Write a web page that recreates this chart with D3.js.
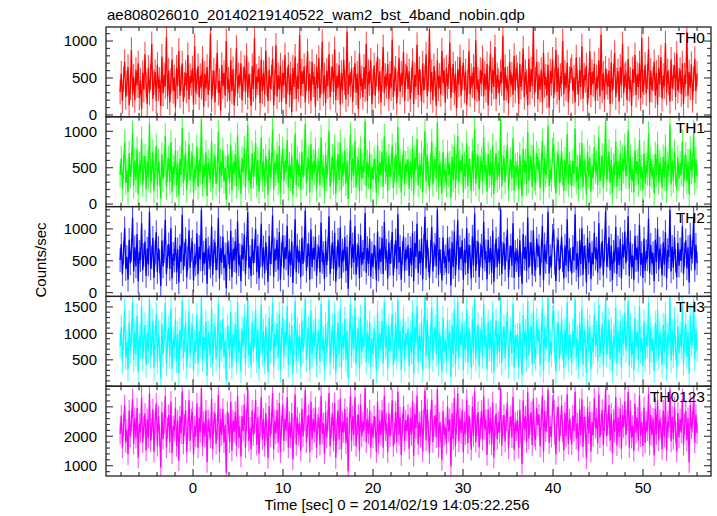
<!DOCTYPE html>
<html><head><meta charset="utf-8">
<script src="https://cdn.jsdelivr.net/npm/d3@7"></script>
<style>body{margin:0;background:#fff}svg{display:block}text{font-family:"Liberation Sans",Arial,sans-serif;fill:#000}</style>
</head><body><svg id="c" width="717" height="516"></svg>
<script>
const title = "ae808026010_20140219140522_wam2_bst_4band_nobin.qdp";
const xLabel = "Time [sec] 0 = 2014/02/19 14:05:22.256";
const yLabel = "Counts/sec";
const bands = ["TH0","TH1","TH2","TH3","TH0123"];
const colors = ["#ff0000","#00ff00","#0000ff","#00ffff","#ff00ff"];
const tStart = -8.1, tEnd = 56.0;
const xTicks = [0,10,20,30,40,50];
const yDomains = [[-25,1190],[-35,1200],[-60,1350],[0,1700],[650,3700]];
const yTickVals = [[0,500,1000],[0,500,1000],[0,500,1000],[500,1000,1500],[1000,2000,3000]];
const yMinorStep = [100,100,100,100,200];
// typical 1-sigma error half-width of each band (counts/sec)
const yErrors = [170,170,185,230,360];

const th0 = [310,560,190,480,720,240,430,650,130,370,880,280,520,200,610,400,
700,230,470,80,570,340,820,410,150,640,300,510,960,220,440,580,
190,680,360,480,120,790,290,540,390,1050,250,600,170,460,750,320,
510,100,640,390,870,260,490,700,180,410,570,330,810,210,530,430,
630,140,930,310,450,660,240,530,380,760,110,560,360,650,270,500,
1100,210,430,600,170,520,840,300,460,60,680,390,570,260,1000,350,
480,190,740,320,620,130,420,910,290,540,400,700,200,490,640,310,
800,240,550,390,120,660,350,1040,230,520,440,630,160,750,320,570,
280,870,420,190,610,360,510,760,130,440,940,250,540,340,670,180,
570,400,810,150,470,680,270,550,40,640,380,790,220,530,350,1080,
260,590,420,660,170,500,860,320,560,190,720,410,520,110,650,360,
770,230,450,990,290,540,160,600,390,820,240,490,650,310,890,200,
530,370,680,140,570,330,750,440,210,1130,280,550,410,630,180,480,
700,300,560,80,830,390,500,240,650,350,960,190,580,430,740,150,
450,670,260,550,790,320,590,170,480,920,290,530,390,690,220,560,
360,1020,240,490,630,160,420,770,310,560,410,850,190,520,660,350,
590,210,470,730,150,540,380,950,270,620,440,180,700,330,510,820,
250,490,1160,310,580,200,660,420,120,740,360,530,280,870,430,600,
170,640,390,520,980,230,470,690,300,560,90,620,410,780,260,500,
710,330,590,140,450,860,280,530,400,650,210,1010,350,480,190,610,
420,770,250,560,340,690,130,500,830,290,610,380,920,220,540,460,
300,580,430,1070,200,650,360,490,160,720,410,550,270,800,330,640,
540,150,690,380,500,900,240,580,450,130,760,310,620,390,1190,280,
480,720,210,550,340,610,180,840,400,520,260,680,100,590,430,750,
230,470,880,310,640,200,530,420,1000,280,570,360,710,170,490,600,
650,320,510,170,780,440,290,610,380,930,220,540,470,670,140,400,
860,270,580,420,690,190,510,360,740,250,1090,330,560,210,630,450,
380,600,150,710,320,520,840,240,470,590,180,650,400,960,290,530,
560,200,760,350,480,120,620,430,810,270,550,380,700,230,1040,310,
440,680,290,520,890,170,600,340,490,720,260,570,140,640,410,780,
220,530,390,970,300,590,440,180,750,360,510,670,240,830,330,470,
610,280,700,150,540,420,1120,260,580,370,690,200,490,760,320,560];
const th1 = [400,630,210,510,850,290,460,160,700,380,540,980,250,600,330,760,
140,550,430,900,270,490,660,200,580,370,1110,310,450,720,180,520,
800,250,590,410,80,680,340,540,940,230,470,630,300,850,170,510,
410,740,260,570,120,620,400,1050,290,500,700,190,440,820,320,560,
670,150,480,360,790,230,600,440,1170,270,520,380,710,110,580,460,
340,870,220,540,660,280,450,990,170,590,390,740,310,500,60,660,
520,300,810,190,570,420,680,250,950,360,490,140,630,430,770,230,
580,1090,320,460,210,700,380,540,840,260,610,170,480,910,340,590,
240,660,450,130,750,370,520,1030,200,570,420,690,290,800,160,500,
760,310,590,440,880,220,550,350,670,120,460,970,260,620,400,540,
190,720,370,560,1100,280,490,630,160,830,330,580,430,750,210,470,
600,260,920,400,510,170,680,350,570,1010,240,460,660,300,790,140,
450,690,330,850,190,550,410,740,280,600,70,520,960,320,630,390,
870,230,490,610,180,760,350,530,430,1140,250,580,370,700,200,510,
330,620,460,150,810,290,570,400,720,240,930,440,550,180,660,370,
530,800,220,470,680,300,1060,390,600,160,510,740,280,560,440,620,
210,580,350,770,130,640,470,890,260,540,380,700,170,600,1000,310,
680,420,190,530,860,270,490,620,340,1120,230,560,410,150,720,380,
470,260,710,400,560,90,650,330,790,220,510,940,300,590,440,680,
160,550,380,840,250,620,460,180,730,350,1030,280,520,660,200,490,
610,310,920,430,540,170,690,390,580,260,800,140,480,700,330,570,
370,1170,240,500,640,300,560,820,200,450,610,350,900,190,530,420,
540,200,680,370,110,760,440,590,280,990,320,500,650,230,810,360,
290,700,480,600,220,540,870,160,630,400,520,1080,250,470,340,740,
820,380,150,560,690,290,460,730,420,180,610,350,960,270,550,430,
250,590,410,1040,300,510,200,680,370,840,230,600,460,130,720,390,
640,170,520,360,780,440,570,260,910,310,490,670,220,560,1150,340,
480,720,290,610,150,530,400,860,240,590,350,700,180,630,450,800,
380,560,1010,210,650,330,480,160,740,420,590,270,880,360,510,190,
700,280,540,430,970,250,620,380,510,150,690,400,830,300,570,470,
220,650,360,790,180,550,460,1090,270,600,320,720,410,200,640,350,
560,410,860,240,500,680,310,590,130,760,440,530,990,290,620,380];
const th2 = [510,760,290,620,1010,370,560,200,830,460,670,1180,330,710,410,920,
180,640,510,1090,350,590,800,260,690,440,1270,380,550,860,230,630,
950,320,700,490,100,820,410,650,1140,290,570,760,370,1010,220,610,
500,870,320,680,160,740,480,1220,360,600,840,240,540,980,390,670,
800,190,580,440,930,290,720,520,1300,340,630,460,850,140,690,550,
410,1040,280,650,790,350,540,1170,220,700,470,880,380,600,70,780,
630,370,970,240,680,510,810,310,1120,440,590,180,750,520,910,290,
690,1260,390,560,260,840,460,650,1000,320,730,220,580,1080,410,710,
300,790,540,170,890,450,630,1210,250,680,510,830,360,950,200,600,
900,380,710,530,1050,270,660,430,800,150,560,1150,320,740,480,650,
240,860,450,670,1290,340,590,760,200,990,400,700,520,880,260,570,
720,320,1100,480,620,210,810,430,680,1200,290,560,790,370,940,170,
540,830,400,1020,230,660,500,870,340,720,60,630,1140,390,760,470,
1040,280,590,740,220,900,430,640,520,1250,310,700,450,840,250,620,
400,750,550,190,960,360,690,480,860,290,1110,530,660,220,790,450,
640,950,270,570,820,370,1230,470,720,200,620,880,340,680,530,750,
260,700,430,940,180,780,560,1080,310,650,460,850,210,730,1190,380,
830,510,230,640,1030,330,600,750,410,1310,280,680,490,190,870,460,
570,310,860,480,690,110,790,400,960,270,620,1130,360,710,530,820,
200,670,460,1010,300,750,560,220,880,420,1240,340,630,800,240,590,
740,380,1110,520,650,210,830,470,700,310,970,170,580,850,400,690,
450,1300,290,610,770,360,680,990,240,550,740,420,1090,230,640,510,
660,240,820,450,140,920,530,710,340,1180,390,600,790,280,980,440,
350,850,580,730,270,650,1050,190,760,480,630,1270,300,570,410,890,
990,460,180,680,830,350,560,880,510,220,740,420,1150,330,670,520,
300,720,500,1230,360,620,240,820,450,1010,280,730,560,160,870,470,
780,210,630,440,940,530,690,310,1090,380,590,810,270,680,1280,410,
580,870,350,740,190,640,490,1030,290,710,430,840,220,760,550,960,
460,680,1200,260,790,400,580,200,890,510,710,330,1060,440,620,230,
850,340,650,520,1160,300,750,460,620,180,830,480,1000,360,690,570,
270,790,440,950,220,670,560,1300,330,720,390,870,500,240,780,420,
680,500,1040,290,600,820,380,710,160,910,530,640,1190,350,750,460];
const th3 = [760,1120,450,910,1440,540,830,310,1210,670,980,1590,490,1040,600,1330,
270,940,740,1520,520,870,1160,390,1010,650,1660,560,810,1240,340,920,
1370,470,1020,710,150,1180,600,950,1570,430,840,1100,550,1470,330,900,
730,1270,480,1000,240,1070,700,1620,530,880,1210,360,780,1420,580,980,
1150,290,850,650,1350,430,1040,760,1680,500,930,680,1220,200,1010,800,
600,1500,420,960,1140,520,800,1560,330,1020,690,1270,560,880,110,1120,
930,550,1400,360,990,740,1170,460,1590,650,860,280,1090,760,1320,430,
1010,1650,580,820,390,1210,680,950,1450,480,1060,330,850,1540,610,1040,
450,1140,780,260,1290,660,920,1580,370,990,740,1190,530,1370,300,880,
1310,560,1040,770,1520,400,970,630,1150,230,810,1610,470,1080,700,950,
360,1240,660,980,1660,500,870,1110,300,1430,590,1020,750,1280,390,840,
1050,470,1560,710,910,320,1170,630,990,1630,430,820,1140,550,1360,260,
780,1200,590,1470,350,970,720,1270,500,1060,140,930,1550,570,1100,690,
1490,410,870,1080,330,1310,640,940,760,1670,460,1020,660,1210,370,910,
590,1090,800,290,1390,530,1010,700,1240,430,1580,770,960,330,1140,660,
940,1370,400,700,1180,550,1630,690,1050,300,910,1280,500,990,780,1090,
380,1020,640,1410,230,1130,820,1520,460,960,680,1230,310,1060,1690,570,
1260,740,330,950,1490,500,880,1120,610,1700,420,1000,720,280,1300,660,
860,470,1250,710,1030,180,1160,590,1440,410,900,1600,540,1040,770,1190,
310,990,680,1460,450,1100,820,350,1280,620,1650,510,920,1170,380,870,
1080,560,1550,760,960,320,1220,690,1020,470,1390,260,860,1250,590,1000,
650,1680,440,900,1130,530,990,1420,370,810,1080,620,1560,340,940,750,
970,360,1190,660,210,1340,780,1040,500,1610,580,880,1150,420,1430,640,
520,1250,850,1060,400,950,1500,290,1100,710,920,1670,450,840,600,1300,
1420,680,280,990,1210,520,820,1280,740,350,1080,620,1590,490,970,760,
440,1050,730,1640,540,910,370,1190,670,1470,410,1060,820,250,1260,690,
1120,320,930,640,1360,780,1010,470,1540,560,860,1180,400,1000,1660,600,
840,1260,510,1080,300,940,720,1490,430,1040,630,1220,350,1110,800,1390,
680,990,1610,390,1150,580,850,310,1290,740,1030,490,1520,650,910,380,
1230,500,960,760,1580,440,1090,670,900,290,1200,700,1450,530,1000,820,
400,1160,640,1380,330,980,810,1690,480,1050,570,1270,730,360,1140,620,
990,740,1500,430,880,1190,560,1030,240,1330,780,940,1620,510,1090,680];
const th0123 = [2080,2700,1620,2380,3050,1790,2230,1380,2870,1990,2520,3260,1740,2620,1940,2960,
1280,2420,2140,3310,1790,2330,2770,1520,2580,1940,3460,1830,2240,2920,1470,2480,
3110,1670,2680,2040,940,2820,1890,2430,3360,1620,2280,2720,1790,3170,1420,2340,
2190,2970,1660,2530,1170,2680,2090,3520,1740,2390,2880,1460,2240,3220,1840,2580,
2820,1370,2340,1990,3120,1610,2630,2140,3630,1690,2490,1990,2880,1120,2540,2240,
1940,3270,1560,2490,2780,1740,2240,3420,1460,2590,2040,2930,1790,2390,760,2830,
2440,1790,3170,1510,2540,2140,2830,1660,3370,1940,2340,1310,2690,2190,3080,1610,
2540,3570,1840,2290,1560,2880,2040,2440,3230,1710,2640,1410,2340,3320,1890,2590,
1660,2780,2190,1260,3030,1990,2440,3470,1560,2540,2090,2880,1790,3130,1460,2340,
3080,1840,2590,2190,3320,1610,2490,1940,2780,1210,2290,3420,1710,2640,2040,2440,
1510,2930,1990,2540,3570,1790,2340,2730,1460,3170,1890,2590,2140,2980,1610,2390,
2640,1710,3370,2090,2440,1410,2830,1940,2540,3470,1660,2290,2780,1840,3130,1260,
2240,2880,1890,3270,1560,2490,2140,2930,1760,2640,810,2440,3370,1840,2690,2040,
3320,1660,2390,2730,1510,3080,1990,2490,2190,3640,1790,2590,2090,2880,1610,2440,
1940,2690,2290,1460,3170,1760,2540,2040,2880,1610,3370,2190,2440,1460,2780,1990,
2390,3220,1660,2090,2830,1790,3520,2040,2640,1360,2390,3020,1840,2540,2190,2730,
1580,2620,2050,3180,1330,2760,2260,3380,1720,2480,1980,2870,1480,2560,3560,1860,
2920,2180,1420,2540,3240,1800,2340,2710,1960,3600,1630,2460,2120,1190,2850,2040,
2300,1740,3020,2160,2580,980,2780,1900,3300,1660,2420,3460,1820,2600,2100,2900,
1450,2500,2060,3250,1760,2700,2280,1540,3000,2000,3520,1800,2380,2820,1620,2260,
2860,1880,3360,2240,2560,1360,2920,2080,2640,1720,3150,1280,2340,2760,1900,2480,
2120,3620,1680,2360,2720,1820,2540,3140,1590,2300,2680,1960,3330,1530,2460,2200,
2520,1600,2900,2100,1050,3220,2220,2680,1800,3490,1920,2400,2820,1700,3280,2020,
1880,2960,2380,2740,1650,2580,3380,1470,2860,2160,2500,3580,1760,2340,1980,3040,
3240,2080,1390,2640,3000,1830,2360,3050,2180,1520,2800,2000,3430,1740,2560,2240,
1720,2700,2180,3510,1920,2440,1510,2920,2040,3260,1640,2660,2300,1250,2990,2100,
2820,1480,2480,2020,3290,2280,2600,1760,3420,1960,2400,2900,1700,2540,3600,2010,
2400,3060,1850,2760,1430,2560,2150,3320,1690,2640,1980,2940,1580,2720,2300,3190,
2040,2540,3500,1620,2860,1940,2360,1500,3100,2120,2640,1840,3380,2000,2480,1660,
2980,1780,2500,2200,3440,1710,2720,2040,2600,1350,2940,2060,3220,1860,2560,2280,
1560,2880,1980,3300,1520,2500,2300,3590,1820,2660,1900,2980,2140,1480,2800,1960,
2580,2120,3260,1700,2420,2860,1860,2620,1110,3060,2260,2480,3400,1780,2740,2100];
const series = [th0, th1, th2, th3, th0123];

const L = 106, R = 711, T = 27, B = 476;
const ph = (B - T) / 5;
const svg = d3.select("#c");
const x = d3.scaleLinear().domain([-9.67, 57.55]).range([L, R]);
const xMinor = d3.range(-8, 57, 2);

svg.append("text").attr("x", 107).attr("y", 20).attr("font-size", 15).text(title);

series.forEach((vals, k) => {
  const top = T + k * ph, bot = top + ph;
  const y = d3.scaleLinear().domain(yDomains[k]).range([bot, top]);
  const n = vals.length;
  const dt = (tEnd - tStart) / (n - 1);
  const tx = i => x(tStart + i * dt);
  const clipId = "clip" + k;
  svg.append("clipPath").attr("id", clipId).append("rect")
    .attr("x", L).attr("y", top).attr("width", R - L).attr("height", ph);
  const g = svg.append("g").attr("clip-path", `url(#${clipId})`);
  const e = yErrors[k];
  g.append("path")
    .attr("d", vals.map((v, i) => `M${tx(i).toFixed(2)},${y(v + e).toFixed(2)}V${y(v - e).toFixed(2)}`).join(""))
    .attr("stroke", colors[k]).attr("stroke-opacity", 0.7).attr("stroke-width", 1.1).attr("fill", "none");
  const line = d3.line().x((d, i) => tx(i)).y(d => y(d));
  g.append("path").datum(vals)
    .attr("fill", "none").attr("stroke", colors[k]).attr("stroke-width", 1.3)
    .attr("d", line);

  const tk = svg.append("g").attr("stroke", "#444").attr("stroke-width", 1.2);
  xMinor.forEach(v => {
    const len = v % 10 === 0 ? 7 : 4;
    tk.append("line").attr("x1", x(v)).attr("x2", x(v)).attr("y1", bot).attr("y2", bot - len);
    tk.append("line").attr("x1", x(v)).attr("x2", x(v)).attr("y1", top).attr("y2", top + len);
  });
  const [d0, d1] = yDomains[k];
  const step = yMinorStep[k];
  d3.range(Math.ceil(d0 / step) * step, d1 + 1, step).forEach(v => {
    const len = v % (k === 4 ? 1000 : 500) === 0 ? 7 : 4;
    tk.append("line").attr("x1", L).attr("x2", L + len).attr("y1", y(v)).attr("y2", y(v));
    tk.append("line").attr("x1", R).attr("x2", R - len).attr("y1", y(v)).attr("y2", y(v));
  });
  yTickVals[k].forEach(v => {
    svg.append("text").attr("x", 97).attr("y", y(v) + 5.3).attr("text-anchor", "end")
      .attr("font-size", 15).text(v);
  });
  svg.append("text").attr("x", 705).attr("y", top + 16).attr("text-anchor", "end")
    .attr("font-size", 15.5).text(bands[k]);
  svg.append("rect").attr("x", L).attr("y", top).attr("width", R - L).attr("height", ph)
    .attr("fill", "none").attr("stroke", "#222").attr("stroke-width", 1.3);
});

xTicks.forEach(v => {
  svg.append("text").attr("x", x(v)).attr("y", 493).attr("text-anchor", "middle")
    .attr("font-size", 15).text(v);
});
svg.append("text").attr("x", 397).attr("y", 510).attr("text-anchor", "middle")
  .attr("font-size", 15).text(xLabel);
svg.append("text").attr("transform", "translate(46,260) rotate(-90)")
  .attr("text-anchor", "middle").attr("font-size", 15).text(yLabel);
</script></body></html>
